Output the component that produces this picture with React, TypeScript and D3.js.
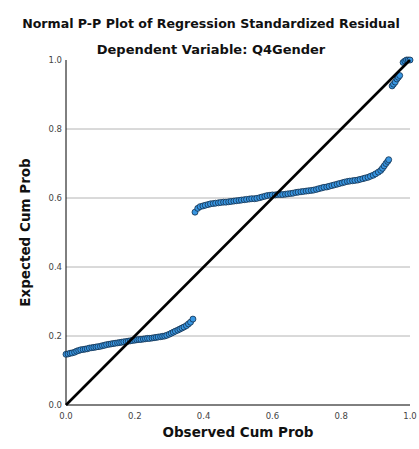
import React from "react";
import * as d3 from "d3";

const title = "Normal P-P Plot of Regression Standardized Residual";
const subtitle = "Dependent Variable: Q4Gender";
const xLabel = "Observed Cum Prob";
const yLabel = "Expected Cum Prob";
const xTicks = [0, 0.2, 0.4, 0.6, 0.8, 1.0];
const yTicks = [0, 0.2, 0.4, 0.6, 0.8, 1.0];
const gridValues = [0.2, 0.4, 0.6, 0.8];

const lowCluster: [number, number][] = [
  [0.000, 0.147], [0.006, 0.148], [0.012, 0.150], [0.018, 0.151], [0.025, 0.153],
  [0.031, 0.156], [0.037, 0.158], [0.043, 0.160], [0.050, 0.161], [0.056, 0.162],
  [0.062, 0.163], [0.068, 0.165], [0.075, 0.166], [0.081, 0.167], [0.087, 0.168],
  [0.093, 0.169], [0.100, 0.170], [0.106, 0.172], [0.112, 0.173], [0.118, 0.175],
  [0.125, 0.176], [0.131, 0.177], [0.137, 0.178], [0.143, 0.179], [0.150, 0.180],
  [0.156, 0.181], [0.162, 0.182], [0.168, 0.183], [0.175, 0.184], [0.181, 0.185],
  [0.187, 0.186], [0.193, 0.187], [0.200, 0.188], [0.206, 0.189], [0.212, 0.190],
  [0.218, 0.190], [0.225, 0.191], [0.231, 0.192], [0.237, 0.193], [0.243, 0.193],
  [0.250, 0.194], [0.256, 0.195], [0.262, 0.196], [0.268, 0.197], [0.275, 0.198],
  [0.281, 0.199], [0.287, 0.200], [0.293, 0.202], [0.300, 0.205], [0.306, 0.208],
  [0.312, 0.211], [0.318, 0.214], [0.325, 0.217], [0.331, 0.220], [0.337, 0.223],
  [0.343, 0.226], [0.350, 0.230], [0.356, 0.235], [0.362, 0.240], [0.369, 0.249],
];

const midCluster: [number, number][] = [
  [0.375, 0.559], [0.383, 0.570], [0.390, 0.575], [0.398, 0.577], [0.405, 0.579],
  [0.413, 0.581], [0.420, 0.583], [0.428, 0.584], [0.435, 0.585], [0.443, 0.586],
  [0.450, 0.587], [0.458, 0.588], [0.465, 0.588], [0.473, 0.589], [0.480, 0.590],
  [0.488, 0.591], [0.495, 0.592], [0.503, 0.593], [0.510, 0.594], [0.518, 0.595],
  [0.525, 0.596], [0.533, 0.597], [0.540, 0.598], [0.548, 0.598], [0.555, 0.599],
  [0.563, 0.601], [0.570, 0.603], [0.578, 0.605], [0.585, 0.607], [0.593, 0.608],
  [0.600, 0.609], [0.608, 0.609], [0.615, 0.610], [0.623, 0.610], [0.630, 0.610],
  [0.638, 0.611], [0.645, 0.612], [0.653, 0.613], [0.660, 0.614], [0.668, 0.616],
  [0.675, 0.617], [0.683, 0.618], [0.690, 0.619], [0.698, 0.620], [0.705, 0.621],
  [0.713, 0.622], [0.720, 0.623], [0.728, 0.625], [0.735, 0.627], [0.743, 0.629],
  [0.750, 0.631], [0.758, 0.632], [0.765, 0.634], [0.773, 0.636], [0.780, 0.638],
  [0.788, 0.640], [0.795, 0.642], [0.803, 0.644], [0.810, 0.646], [0.818, 0.648],
  [0.825, 0.649], [0.833, 0.650], [0.840, 0.651], [0.848, 0.652], [0.855, 0.654],
  [0.863, 0.656], [0.870, 0.658], [0.878, 0.660], [0.885, 0.663], [0.893, 0.666],
  [0.900, 0.670], [0.908, 0.675], [0.915, 0.680], [0.920, 0.686], [0.925, 0.693],
  [0.930, 0.700], [0.935, 0.706], [0.938, 0.711],
];

const highCluster: [number, number][] = [
  [0.948, 0.925], [0.952, 0.930], [0.957, 0.936], [0.962, 0.945], [0.966, 0.950],
  [0.970, 0.955], [0.980, 0.993], [0.985, 0.997], [0.990, 1.0], [0.995, 1.0], [1.0, 1.0],
];

const W = 419;
const H = 449;
const left = 66;
const right = 410;
const top = 60;
const bottom = 405;

export default function App() {
  const x = d3.scaleLinear().domain([0, 1]).range([left, right]);
  const y = d3.scaleLinear().domain([0, 1]).range([bottom, top]);
  const points = [...lowCluster, ...midCluster, ...highCluster];
  const line = d3.line<[number, number]>().x((d) => x(d[0])).y((d) => y(d[1]));
  const font = "'DejaVu Sans', sans-serif";
  return (
    <svg width={W} height={H} style={{ position: "absolute", left: 0, top: 0, background: "#fff" }}>
      <text x={211} y={28} textAnchor="middle" fontFamily={font} fontWeight="bold" fontSize={12.6} fill="#111">
        {title}
      </text>
      <text x={211} y={54} textAnchor="middle" fontFamily={font} fontWeight="bold" fontSize={13} fill="#111">
        {subtitle}
      </text>
      {gridValues.map((g) => (
        <line key={g} x1={x(0)} x2={x(1)} y1={y(g)} y2={y(g)} stroke="#b4b4b4" strokeWidth={1} />
      ))}
      <line x1={x(0)} x2={x(0)} y1={y(1)} y2={y(0)} stroke="#000" strokeWidth={1} />
      <line x1={x(0)} x2={x(1)} y1={y(0)} y2={y(0)} stroke="#000" strokeWidth={1} />
      {yTicks.map((t) => (
        <text key={t} x={x(0) - 4} y={y(t)} dy="0.35em" textAnchor="end" fontFamily={font} fontSize={8.5} fill="#444">
          {t.toFixed(1)}
        </text>
      ))}
      {xTicks.map((t) => (
        <text key={t} x={x(t)} y={419} textAnchor="middle" fontFamily={font} fontSize={8.5} fill="#444">
          {t.toFixed(1)}
        </text>
      ))}
      <text x={(left + right) / 2} y={437} textAnchor="middle" fontFamily={font} fontWeight="bold" fontSize={13.5} fill="#111">
        {xLabel}
      </text>
      <text
        transform={`translate(30,${(top + bottom) / 2}) rotate(-90)`}
        textAnchor="middle"
        fontFamily={font}
        fontWeight="bold"
        fontSize={13.5}
        fill="#111"
      >
        {yLabel}
      </text>
      {points.map((p, i) => (
        <circle key={i} cx={x(p[0])} cy={y(p[1])} r={3} fill="#3896e2" stroke="#12304e" strokeWidth={0.8} />
      ))}
      <path d={line([[0, 0], [1, 1]]) || ""} stroke="#000" strokeWidth={2.6} fill="none" />
    </svg>
  );
}
